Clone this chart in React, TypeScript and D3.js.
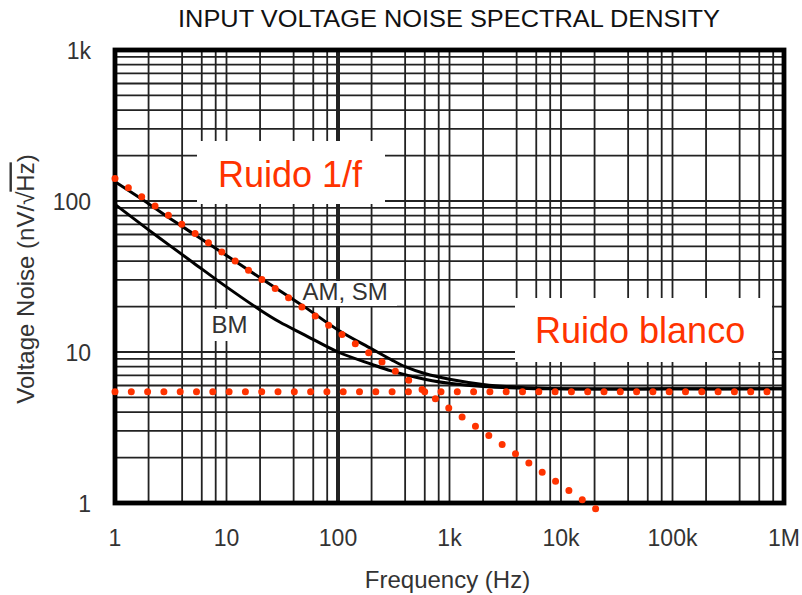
import React from "react";
import * as d3 from "d3";

// ---- data ----
const xTickValues = [1, 10, 100, 1e3, 1e4, 1e5, 1e6];
const xTickLabels = ["1", "10", "100", "1k", "10k", "100k", "1M"];
const yTickValues = [1, 10, 100, 1000];
const yTickLabels = ["1", "10", "100", "1k"];

const freqAMSM = [1, 2, 3, 5, 10, 20, 50, 100, 200, 300, 400, 600, 1000, 2000, 4000, 10000, 100000, 1000000];
const noiseAMSM = [134, 96, 78, 61, 43.5, 31, 19.9, 14, 10.5, 8.9, 8.0, 7.2, 6.6, 6.1, 5.85, 5.72, 5.7, 5.7];

const freqBM = [1, 2, 3, 5, 10, 20, 30, 50, 100, 200, 300, 500, 700, 1000, 2000, 5000, 10000, 100000, 1000000];
const noiseBM = [95, 64.4, 51.6, 39.2, 27, 19, 15.8, 13, 10, 8.3, 7.5, 6.8, 6.45, 6.2, 5.9, 5.74, 5.7, 5.7, 5.7];

const flickerFreq = [1, 21100];
const flickerNoise = [141, 0.9];

const whiteFreq = [1, 800000];
const whiteNoise = [5.46, 5.46];

const xMinorMult = [2, 4, 6, 8];
const yMinorMult = [2, 3, 4, 5, 6, 7, 8, 9];

const FONT = "'Liberation Sans', Arial, Helvetica, sans-serif";
const RED = "#ff3300";
const GRAY = "#333";

export default function App() {
  const x = d3.scaleLog().domain([1, 1e6]).range([115, 784]);
  const y = d3.scaleLog().domain([1, 1000]).range([503, 50]);

  const xGrid: number[] = [];
  for (let d = 1; d < 1e6; d *= 10) {
    xMinorMult.forEach((m) => xGrid.push(d * m));
    if (d > 1) xGrid.push(d);
  }
  const yGrid: number[] = [];
  for (let d = 1; d < 1000; d *= 10) {
    yMinorMult.forEach((m) => yGrid.push(d * m));
    if (d > 1) yGrid.push(d);
  }

  const line = d3
    .line<[number, number]>()
    .x((d) => x(d[0]))
    .y((d) => y(d[1]))
    .curve(d3.curveCatmullRom.alpha(0.5));
  const straight = d3
    .line<[number, number]>()
    .x((d) => x(d[0]))
    .y((d) => y(d[1]));

  const amsm = freqAMSM.map((f, i) => [f, noiseAMSM[i]] as [number, number]);
  const bm = freqBM.map((f, i) => [f, noiseBM[i]] as [number, number]);
  const flicker = flickerFreq.map((f, i) => [f, flickerNoise[i]] as [number, number]);
  const white = whiteFreq.map((f, i) => [f, whiteNoise[i]] as [number, number]);

  const [x0, x1] = x.range();
  const [yb, yt] = y.range();

  return (
    <svg
      width={802}
      height={595}
      style={{ position: "absolute", left: 0, top: 0, background: "#fff" }}
      fontFamily={FONT}
    >
      <rect x={0} y={0} width={802} height={595} fill="#fff" />
      {/* title */}
      <text
        x={449}
        y={27}
        textAnchor="middle"
        fontSize={23}
        fill="#111"
        textLength={542}
        lengthAdjust="spacingAndGlyphs"
      >
        INPUT VOLTAGE NOISE SPECTRAL DENSITY
      </text>

      {/* grid */}
      {xGrid.map((v) => (
        <line
          key={"gx" + v}
          x1={x(v)}
          x2={x(v)}
          y1={yt}
          y2={yb}
          stroke="#222"
          strokeWidth={v === 100 ? 4 : 1.8}
        />
      ))}
      {yGrid.map((v) => (
        <line key={"gy" + v} x1={x0} x2={x1} y1={y(v)} y2={y(v)} stroke="#222" strokeWidth={1.8} />
      ))}

      {/* white label boxes */}
      <rect x={197} y={141} width={188} height={63} fill="#fff" />
      <rect x={515} y={298} width={257} height={64} fill="#fff" />
      <rect x={297} y={281} width={100} height={25} fill="#fff" />
      <rect x={206} y={309} width={48} height={32} fill="#fff" />

      {/* frame */}
      <rect x={x0} y={yt} width={x1 - x0} height={yb - yt} fill="none" stroke="#000" strokeWidth={4.8} />

      {/* curves */}
      <path d={line(bm) || ""} fill="none" stroke="#000" strokeWidth={3} />
      <path d={line(amsm) || ""} fill="none" stroke="#000" strokeWidth={3} />

      {/* red dotted asymptotes */}
      <path
        d={straight(flicker) || ""}
        fill="none"
        stroke={RED}
        strokeWidth={7}
        strokeLinecap="round"
        strokeDasharray="0 16.2"
      />
      <path
        d={straight(white) || ""}
        fill="none"
        stroke={RED}
        strokeWidth={7}
        strokeLinecap="round"
        strokeDasharray="0 16.3"
      />

      {/* labels */}
      <text x={218} y={187} fontSize={36} fill={RED}>
        Ruido 1/f
      </text>
      <text x={535} y={343} fontSize={36} fill={RED}>
        Ruido blanco
      </text>
      <text x={302.5} y={300} fontSize={24} fill={GRAY}>
        AM, SM
      </text>
      <text x={211.5} y={333} fontSize={24} fill={GRAY}>
        BM
      </text>

      {/* tick labels */}
      {xTickValues.map((v, i) => (
        <text key={"xt" + v} x={x(v)} y={546} textAnchor="middle" fontSize={23} fill={GRAY}>
          {xTickLabels[i]}
        </text>
      ))}
      {yTickValues.map((v, i) => (
        <text key={"yt" + v} x={91} y={y(v) + 8.5} textAnchor="end" fontSize={23} fill={GRAY}>
          {yTickLabels[i]}
        </text>
      ))}

      {/* axis titles */}
      <text x={447.5} y={588} textAnchor="middle" fontSize={24} fill={GRAY}>
        Frequency (Hz)
      </text>
      <text transform="translate(33.5,279) rotate(-90)" textAnchor="middle" fontSize={24} fill={GRAY}>
        Voltage Noise (nV/√<tspan style={{ textDecoration: "overline" }}>Hz</tspan>)
      </text>
    </svg>
  );
}
